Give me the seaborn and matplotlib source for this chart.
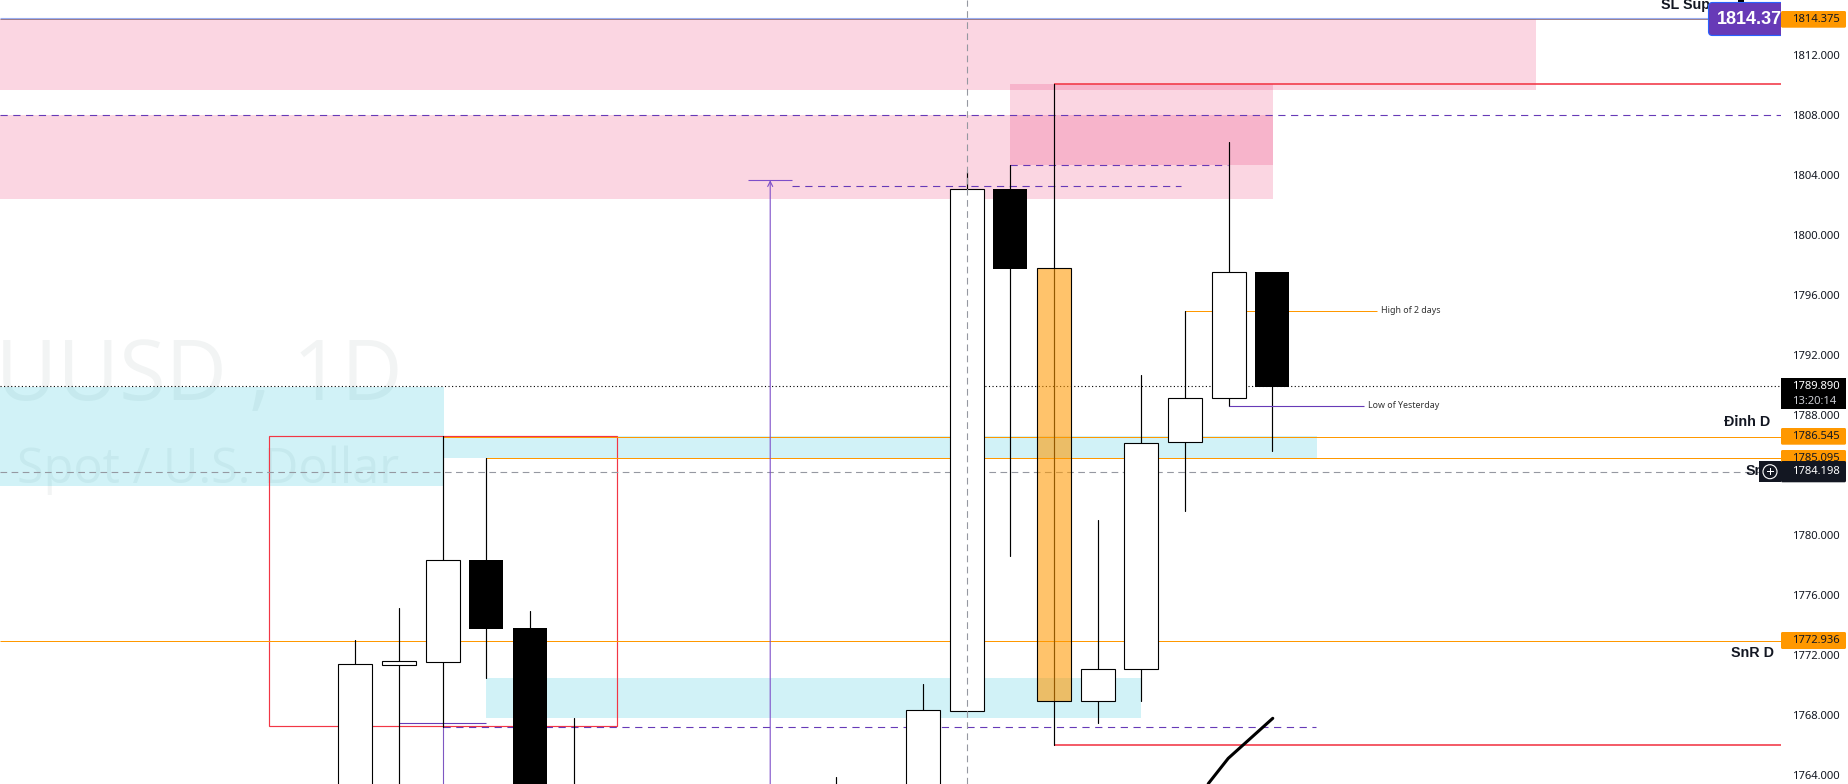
import numpy as np
import pandas as pd
import matplotlib
matplotlib.use("Agg")
import matplotlib.pyplot as plt
from matplotlib.patches import FancyBboxPatch, Rectangle, Circle
from matplotlib.ticker import FixedLocator, FuncFormatter
from matplotlib.transforms import Affine2D
import seaborn as sns

# ---- candle data (session index, prices)
candle_idx = [0, 1, 2, 3, 4, 5, 11, 13, 14, 15, 16, 17, 18, 19, 20, 21]
body_low = [1758.0, 1771.33, 1771.53, 1773.70, 1758.0, 1761.0, 1760.0, 1758.0, 1768.27, 1797.71,
            1768.90, 1768.90, 1771.03, 1786.16, 1789.09, 1789.87]
body_high = [1771.36, 1771.56, 1778.29, 1778.30, 1773.77, 1762.0, 1762.0, 1768.30, 1803.03, 1803.05,
             1797.76, 1771.03, 1786.13, 1789.09, 1797.49, 1797.51]
wick_low = [1757.0, 1757.0, 1767.20, 1770.45, 1757.0, 1760.0, 1759.0, 1757.0, 1768.27, 1778.57,
            1765.98, 1767.47, 1768.93, 1781.55, 1788.58, 1785.60]
wick_high = [1772.98, 1775.11, 1786.55, 1785.10, 1774.90, 1767.78, 1763.85, 1770.05, 1804.16, 1804.63,
             1810.05, 1781.00, 1790.66, 1794.89, 1806.18, 1797.51]
candle_kind = ["up", "up", "up", "down", "down", "down", "up", "up", "up", "down",
               "marked", "up", "up", "up", "up", "down"]

# ---- zones: (first index, last index, low price, high price)
pink_zones = [(-8.14, 27.03, 1809.67, 1814.36), (-8.14, 21.01, 1802.38, 1808.00), (15.0, 21.01, 1804.65, 1810.05)]
cyan_zones = [(-8.14, 2.03, 1783.27, 1789.87), (2.03, 22.02, 1785.10, 1786.55), (3.0, 18.0, 1767.78, 1770.45)]
red_box = (-1.99, 6.0, 1767.23, 1786.55)

# ---- levels
price_ticks = [1764, 1768, 1772, 1776, 1780, 1788, 1792, 1796, 1800, 1804, 1808, 1812]
level_orange = [1786.545, 1785.095, 1772.936]
level_orange_start = [2.0, 3.0, -8.14]
level_last = 1789.890
level_cross = 1784.198
level_red_top = 1810.05
level_red_bottom = 1765.98
level_high2 = 1794.89
level_low_y = 1788.58
dash_levels = [1808.0, 1803.23, 1804.63, 1767.17]
dash_start = [-8.14, 10.0, 15.0, 2.0]
dash_end = [32.65, 18.9, 19.99, 22.0]
stroke_x = [19.4, 19.54, 19.99, 21.01]
stroke_y = [1762.5, 1763.43, 1765.09, 1767.76]
cross_idx = 14.0
arrow_idx = 9.5
arrow_top = 1803.63

W, H = 1848, 784
RED, ORANGE, PURPLE, GREY, INK = "#F23645", "#FF9800", "#673AB7", "#9598A1", "#131722"
BOLD = ["Liberation Sans", "DejaVu Sans"]

sns.set_theme(style="white")
plt.rcParams["font.family"] = ["Noto Sans", "DejaVu Sans"]

fig = plt.figure(figsize=(W / 100, H / 100), dpi=100, facecolor="white")
ax = fig.add_axes([0, 0, 1781 / W, 1])
px = Affine2D().scale(1 / W, -1 / H).translate(0, 1) + fig.transFigure

df = pd.DataFrame({"idx": candle_idx, "height": np.array(body_high) - np.array(body_low)})
sns.barplot(data=df, x="idx", y="height", native_scale=True, width=0.78, saturation=1,
            color="white", edgecolor="black", linewidth=0.8, ax=ax, zorder=5)
lookup = dict(zip(candle_idx, zip(body_low, candle_kind)))
for bar in ax.patches:
    low, kind = lookup[int(round(bar.get_x() + bar.get_width() / 2))]
    bar.set_y(low)
    if kind == "down":
        bar.set_facecolor("black")
        bar.set_edgecolor("none")
    elif kind == "marked":
        bar.set_facecolor((1.0, 0.596, 0.0, 0.58))

wick_df = pd.DataFrame({"x": candle_idx * 2, "y": wick_low + wick_high,
                        "candle": candle_idx * 2})
sns.lineplot(data=wick_df, x="x", y="y", units="candle", estimator=None, color="black",
             linewidth=0.85, ax=ax, zorder=4, legend=False)

ax.set_xlim(-8.14, 32.65)
ax.set_ylim(1763.38, 1815.647)
ax.set_xlabel("")
ax.set_ylabel("")
ax.set_xticks([])
for s in ax.spines.values():
    s.set_visible(False)
ax.yaxis.tick_right()
ax.yaxis.set_major_locator(FixedLocator(price_ticks))
ax.yaxis.set_major_formatter(FuncFormatter(lambda v, _: f"{v:.3f}"))
ax.tick_params(axis="y", length=0, pad=7.7, labelsize=8.1, labelcolor=INK)

# watermark
ax.text(403, 400, "XAUUSD , 1D", transform=px, ha="right", va="baseline", fontsize=61,
        family="Open Sans", color="#F2F4F4", zorder=0, clip_on=True)
ax.text(17, 483, "Spot / U.S. Dollar", transform=px, ha="left", va="baseline", fontsize=35,
        family="Open Sans", color="#F2F4F4", zorder=0)

# zones
for x0, x1, lo, hi in pink_zones:
    ax.add_patch(Rectangle((x0, lo), x1 - x0, hi - lo, fc="#E91E63", alpha=0.18, ec="none", zorder=1))
for x0, x1, lo, hi in cyan_zones:
    ax.add_patch(Rectangle((x0, lo), x1 - x0, hi - lo, fc="#00BCD4", alpha=0.18, ec="none", zorder=1))
x0, x1, lo, hi = red_box
ax.add_patch(Rectangle((x0, lo), x1 - x0, hi - lo, fc="none", ec=RED, lw=0.85, zorder=2))

# levels
for lv, st in zip(level_orange, level_orange_start):
    ax.hlines(lv, st, 32.65, color=ORANGE, lw=0.72, zorder=2)
ax.hlines(1814.42, -8.14, 32.65, color="#9AAEF0", lw=0.8, zorder=2)
ax.hlines(1814.35, -8.14, 32.65, color="#8A6A7A", lw=0.6, zorder=2)
ax.hlines(level_last, -8.14, 32.65, color="black", lw=0.8, ls=(0, (1, 2.2)), zorder=2)
ax.hlines(level_cross, -8.14, 32.65, color=GREY, lw=0.8, ls=(0, (6, 4)), zorder=2)
ax.hlines(level_red_top, 16, 32.65, color=RED, lw=1.15, zorder=3)
ax.hlines(level_red_bottom, 16, 32.65, color=RED, lw=1.15, zorder=3)
for lv, st, en in zip(dash_levels, dash_start, dash_end):
    ax.hlines(lv, st, en, color=PURPLE, lw=0.8, ls=(0, (6.5, 5)), zorder=3)
ax.hlines(1767.43, 1.0, 3.0, color=PURPLE, lw=0.8, zorder=3)
ax.hlines(level_high2, 19.0, 23.4, color=ORANGE, lw=0.72, zorder=3)
ax.hlines(level_low_y, 20.0, 23.1, color=PURPLE, lw=0.8, zorder=6)
ax.vlines(2.0, 1760, 1767.2, color="#7E57C2", lw=0.8, zorder=3)

# arrow
ax.annotate("", xy=(arrow_idx, arrow_top), xytext=(arrow_idx, 1760),
            arrowprops=dict(arrowstyle="->", color="#7E4FC9", lw=0.8, shrinkA=0, shrinkB=0,
                            mutation_scale=9), zorder=3)
ax.hlines(arrow_top, 9.0, 10.0, color="#7E4FC9", lw=0.8, zorder=3)

# brush stroke
sns.lineplot(x=stroke_x, y=stroke_y, color="black", linewidth=2.2, ax=ax, zorder=6,
             estimator=None, sort=False)

# crosshair
ax.vlines(cross_idx, 1763.38, 1815.647, color=GREY, lw=0.8, ls=(0, (6, 4)), zorder=7)

# chart notes
ax.text(1381, 311, "High of 2 days", transform=px, fontsize=6.4, color="#333333", va="center")
ax.text(1368, 406, "Low of Yesterday", transform=px, fontsize=6.4, color="#333333", va="center")
for x_px, y_px, label in [(1724, 422, "Đỉnh D"), (1731, 653, "SnR D"), (1746, 471, "Sn"), (1661, 5, "SL Sup")]:
    ax.text(x_px, y_px, label, transform=px, fontsize=10.3, color=INK, va="center",
            fontweight="bold", family=BOLD, clip_on=True)
ax.add_patch(Rectangle((1738, 0), 6, 3, transform=px, fc="black", ec="none", zorder=8))

# purple price flag
ax.add_patch(FancyBboxPatch((1708.5, 2.5), 90, 33, boxstyle="round,pad=0,rounding_size=4", transform=px,
                            fc=PURPLE, ec="#2962FF", lw=0.8, zorder=9))
ax.text(1717, 20, "1814.375", transform=px, fontsize=13, fontweight="bold", family=BOLD, color="white",
        va="center", zorder=10, clip_on=True)


def price_tag(top, bottom, label, fc, tc):
    fig.add_artist(FancyBboxPatch((1781, top), 65, bottom - top, boxstyle="round,pad=0,rounding_size=1.5",
                                  transform=px, fc=fc, ec="none", zorder=3))
    fig.text(1791.7 / W, 1 - (top + bottom) / 2 / H, label, fontsize=8.1, color=tc, va="center", zorder=4)


price_tag(11, 27.7, "1814.375", ORANGE, INK)
price_tag(428, 444.7, "1786.545", ORANGE, INK)
price_tag(450, 467, "1785.095", ORANGE, INK)
price_tag(632, 649, "1772.936", ORANGE, INK)
price_tag(461, 482.3, "1784.198", INK, "white")

fig.add_artist(Rectangle((1781, 378.3), 65, 30.7, transform=px, fc="black", ec="none", zorder=3))
fig.text(1791.7 / W, 1 - 386.5 / H, "1789.890", fontsize=8.1, color="white", va="center", zorder=4)
fig.text(1791.7 / W, 1 - 401 / H, "13:20:14", fontsize=8.1, color="#C9CBD1", va="center", zorder=4)

# add-level button
fig.add_artist(Rectangle((1759, 461), 21.5, 21.3, transform=px, fc=INK, ec="none", zorder=3))
fig.add_artist(Circle((1770, 471.7), 7, transform=px, fc="none", ec="white", lw=0.8, zorder=4))
fig.add_artist(Rectangle((1766.5, 471.2), 7, 1, transform=px, fc="white", ec="none", zorder=4))
fig.add_artist(Rectangle((1769.5, 468.2), 1, 7, transform=px, fc="white", ec="none", zorder=4))

fig.savefig("out.png", dpi=100)
